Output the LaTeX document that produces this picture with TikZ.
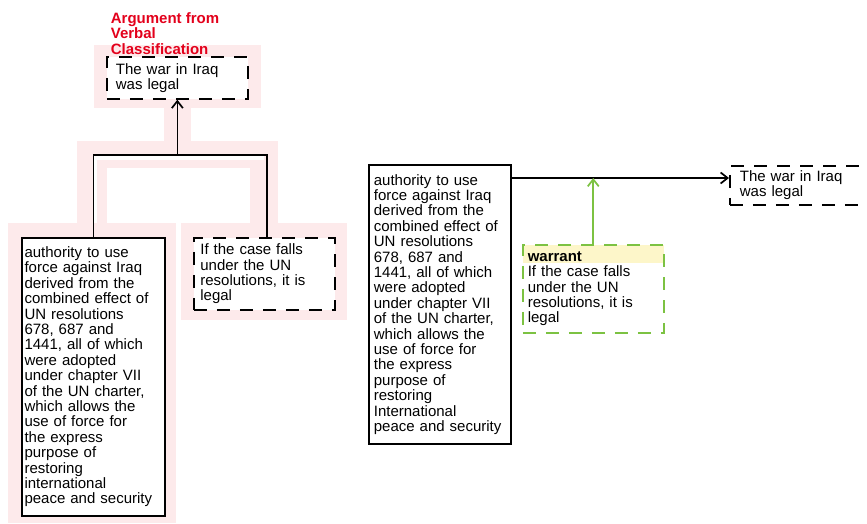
\documentclass[tikz,border=0pt]{standalone}
\usepackage{fontspec}
\setmainfont{Liberation Sans}
\usetikzlibrary{calc, arrows.meta}
\definecolor{schemered}{HTML}{E3001B}
\definecolor{warrgreen}{HTML}{7CC242}
\definecolor{warrfill}{HTML}{FDF6C9}
\definecolor{zonepink}{HTML}{FDEAEB}

\begin{document}
\begin{tikzpicture}[x=1pt, y=-1pt, line width=1.7pt,
  box/.style={draw, fill=white, anchor=north west, inner ysep=0pt, align=left,
    font=\fontsize{15}{15.4}\selectfont},
  dashbox/.style={box, dash pattern=on 13pt off 10pt},
  warrbox/.style={dashbox, draw=warrgreen, line width=1.5pt,
    path picture={\fill[warrfill] (path picture bounding box.north west)
      rectangle ([yshift=-18pt]path picture bounding box.north east);}},
  link/.style={-{Straight Barb[length=7pt, width=11pt]}}]
  \useasboundingbox (0,0) rectangle (867,523);
  % highlighted scheme
  \fill[zonepink] (94,45) rectangle (261,108);
  \fill[zonepink] (164,108) rectangle (191,141);
  \fill[zonepink] (77,141) rectangle (278,168);
  \fill[zonepink] (77,168) rectangle (107,223);
  \fill[zonepink] (250,168) rectangle (278,223);
  \fill[zonepink] (8,223) rectangle (176,523);
  \fill[zonepink] (181,223) rectangle (347,320);
  \draw[white, line width=4pt] (95,223) -- (95,158) -- (264,158);
  \node[anchor=north west, inner sep=0pt, align=left, text=schemered,
    font=\bfseries\fontsize{15}{15.4}\selectfont] (scheme1) at (110,11.5)
    {Argument from\\Verbal\\Classification};
  \node[dashbox, inner xsep=9pt, text width=123pt, minimum height=42pt]
    (concl1) at (106,56) {The war in Iraq\\was legal};
  \node[box, inner xsep=2.7pt, text width=137.6pt, minimum height=278pt]
    (prem1) at (21,237) {authority to use\\force against Iraq\\derived from the\\combined effect of\\UN resolutions\\678, 687 and\\1441, all of which\\were adopted\\under chapter VII\\of the UN charter,\\which allows the\\use of force for\\the express\\purpose of\\restoring\\international\\peace and security};
  \node[dashbox, inner xsep=6.5pt, text width=128pt, minimum height=72pt]
    (warr1) at (193,237) {If the case falls\\under the UN\\resolutions, it is\\legal};
  \coordinate (join1) at (concl1.south |- 0,155);
  \draw (prem1.north) |- (join1) -| ([xshift=2.5pt]warr1.north);
  \draw[link] (join1) -- (concl1.south);
  % plain diagram
  \node[box, inner xsep=5pt, text width=132pt, minimum height=279pt]
    (prem2) at (368,164) {authority to use\\force against Iraq\\derived from the\\combined effect of\\UN resolutions\\678, 687 and\\1441, all of which\\were adopted\\under chapter VII\\of the UN charter,\\which allows the\\use of force for\\the express\\purpose of\\restoring\\International\\peace and security};
  \node[dashbox, inner xsep=10pt, text width=140pt, minimum height=39pt]
    (concl2) at (729,165) {The war in Iraq\\was legal};
  \node[warrbox, inner xsep=5pt, text width=131pt, minimum height=88pt]
    (warr2) at (522,244) {\textbf{warrant}\\If the case falls\\under the UN\\resolutions, it is\\legal};
  \coordinate (tail2) at ([yshift=-14pt]prem2.north east);
  \draw[link] (tail2) -- (tail2 -| concl2.west);
  \draw[link, warrgreen] (warr2.north) -- (warr2.north |- tail2);
\end{tikzpicture}
\end{document}
